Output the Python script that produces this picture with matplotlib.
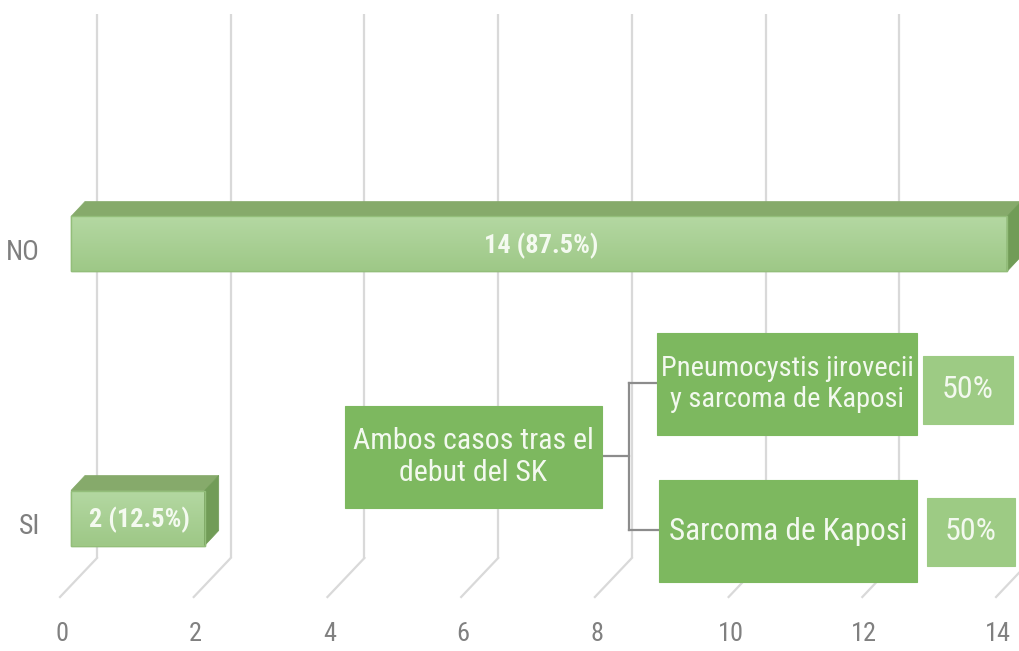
import matplotlib
matplotlib.use("Agg")
import matplotlib.pyplot as plt
from matplotlib.patches import Polygon, Rectangle
from matplotlib.colors import LinearSegmentedColormap
import numpy as np

plt.rcParams['font.family'] = ['Roboto Condensed', 'Sofia Sans Semi Condensed', 'DejaVu Sans']

# ---- data ----
categories = ["SI", "NO"]
values = [2, 14]
bar_labels = ["2 (12.5%)", "14 (87.5%)"]
xticks = [0, 2, 4, 6, 8, 10, 12, 14]

root_text = "Ambos casos tras el\ndebut del SK"
branch_texts = ["Pneumocystis jirovecii\ny sarcoma de Kaposi", "Sarcoma de Kaposi"]
branch_pcts = ["50%", "50%"]

# ---- layout helpers (pixel -> data) ----
W, H = 1019, 651
XPX = 66.86          # px per unit on front plane
X0 = 71              # px of value 0 on front plane
YPX = 274            # px per category step
Y1 = 244             # px of category index 1 (NO)

def dx(px): return px / XPX
def dy(px): return px / YPX
def px2x(px): return (px - X0) / XPX
def py2y(py): return 1 - (py - Y1) / YPX

fig = plt.figure(figsize=(W / 100, H / 100), dpi=100)
ax = fig.add_axes([0, 0, 1, 1])
ax.set_xlim(px2x(0), px2x(W))
ax.set_ylim(py2y(H), py2y(0))
ax.axis("off")

grid_c = "#d9d9d9"
# back wall gridlines + floor diagonals
for v in xticks:
    xb = v + dx(26)
    ax.plot([xb, xb], [py2y(14), py2y(558)], color=grid_c, lw=1.6, zorder=1,
            solid_capstyle="butt")
    ax.plot([xb, v - dx(11)], [py2y(558), py2y(597)], color=grid_c, lw=1.6, zorder=1)
    ax.text(v - dx(9), py2y(634), str(v), ha="center", va="center",
            fontsize=19, color="#808080")

# ---- 3D bars ----
ypos = np.arange(len(categories))
bh = dy(55)
ddx, ddy = dx(14), dy(15)
front_top = "#b4d8a2"
front_bot = "#9ec887"
top_c = "#86aa6b"
side_c = "#719c57"
bars = ax.barh(ypos, values, height=bh, left=0, color="#a8d08d",
               edgecolor="#8fbb76", lw=1.0, zorder=3)
grad = np.linspace(0, 1, 64).reshape(-1, 1)
cmap = LinearSegmentedColormap.from_list("g", [front_top, front_bot])
for rect, v, y, lab in zip(bars, values, ypos, bar_labels):
    yt, yb = y + bh / 2, y - bh / 2
    im = ax.imshow(grad, extent=[0, v, yb, yt], aspect="auto", cmap=cmap,
                   zorder=3.1, origin="upper")
    im.set_clip_path(rect)
    ax.add_patch(Polygon([[0, yt], [v, yt], [v + ddx, yt + ddy], [ddx, yt + ddy]],
                         closed=True, facecolor=top_c, edgecolor=top_c, lw=0.5, zorder=3.2))
    ax.add_patch(Polygon([[v, yb], [v, yt], [v + ddx, yt + ddy], [v + ddx, yb + ddy]],
                         closed=True, facecolor=side_c, edgecolor=side_c, lw=0.5, zorder=3.2))
    ax.add_patch(Rectangle((0, yb), v, bh, fill=False, edgecolor="#93be7a", lw=1.0, zorder=3.3))
    ax.text(v / 2 + dx(2), y - dy(2), lab, ha="center", va="center", fontsize=19,
            fontweight="bold", color="#f4faf0", zorder=4)
    ax.text(px2x(40), y - dy(9), categories[int(y)], ha="right", va="center",
            fontsize=20, color="#7f7f7f", zorder=4)

# ---- overlay diagram ----
box_c = "#7db85f"
pct_c = "#9dcb84"
txt_c = "#f3f9ef"

def box(x0, x1, y0, y1, color, text, fs):
    ax.add_patch(Rectangle((px2x(x0), py2y(y1)), px2x(x1) - px2x(x0), py2y(y0) - py2y(y1),
                           facecolor=color, edgecolor=color, lw=0.8, zorder=5))
    ax.text((px2x(x0) + px2x(x1)) / 2, (py2y(y0) + py2y(y1)) / 2, text,
            ha="center", va="center", fontsize=fs, color=txt_c, zorder=6,
            linespacing=1.2)

box(345, 602, 406, 508, box_c, root_text, 21.5)
box(657, 917, 333, 435, box_c, branch_texts[0], 20.5)
box(659, 917, 480, 582, box_c, branch_texts[1], 22.5)
box(923, 1013, 356, 424, pct_c, branch_pcts[0], 23)
box(927, 1015, 498, 566, pct_c, branch_pcts[1], 23)

con_c = "#8c8c8c"
ax.plot([px2x(602), px2x(629)], [py2y(456), py2y(456)], color=con_c, lw=1.6, zorder=4.5)
ax.plot([px2x(629), px2x(629)], [py2y(383), py2y(530)], color=con_c, lw=1.6, zorder=4.5)
ax.plot([px2x(629), px2x(657)], [py2y(383), py2y(383)], color=con_c, lw=1.6, zorder=4.5)
ax.plot([px2x(629), px2x(659)], [py2y(530), py2y(530)], color=con_c, lw=1.6, zorder=4.5)

fig.savefig("out.png", dpi=100)
